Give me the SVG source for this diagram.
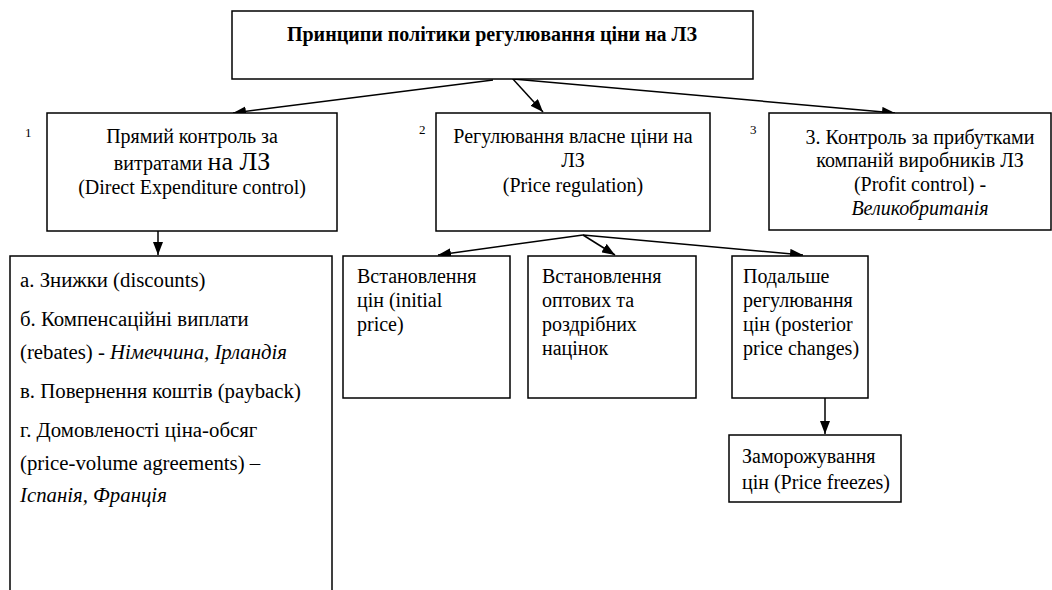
<svg xmlns="http://www.w3.org/2000/svg" width="1052" height="590" viewBox="0 0 1052 590">
<style>
.box{fill:#fff;stroke:#000;stroke-width:1.5}
.t{font-family:"Liberation Serif","Times New Roman",serif;font-size:20px;fill:#000}
.ta{font-size:20.8px}
.c{text-anchor:middle}
.b{font-weight:bold}
.i{font-style:italic}
.n{font-family:"Liberation Serif","Times New Roman",serif;font-size:13px;fill:#000}
.edge{stroke:#000;stroke-width:1.5;fill:none;marker-end:url(#ah)}
</style>
<defs>
<marker id="ah" markerUnits="userSpaceOnUse" markerWidth="13" markerHeight="10" viewBox="0 0 13 10" refX="13" refY="5" orient="auto">
<path d="M0,0 L13,5 L0,10 Z" fill="#000"/>
</marker>
</defs>
<rect width="1052" height="590" fill="#fff"/>
<g id="connectors">
<line class="edge" x1="493" y1="80" x2="233" y2="113"/>
<line class="edge" x1="512" y1="78" x2="543" y2="112"/>
<line class="edge" x1="513" y1="79" x2="895" y2="113"/>
<line class="edge" x1="158" y1="231" x2="158" y2="255"/>
<line class="edge" x1="583" y1="235" x2="438" y2="255"/>
<line class="edge" x1="583" y1="235" x2="615" y2="255"/>
<line class="edge" x1="583" y1="235" x2="803" y2="255"/>
<line class="edge" x1="825" y1="398" x2="825" y2="434"/>
</g>
<g id="root">
<rect class="box" x="232" y="11" width="521" height="68"/>
<text class="t c b" x="492" y="41">Принципи політики регулювання ціни на ЛЗ</text>
</g>
<g id="n1">
<text class="n" x="25" y="137">1</text>
<rect class="box" x="47" y="113" width="290" height="118"/>
<text class="t c" x="192" y="143">Прямий контроль за</text>
<text class="t c" x="192" y="170">витратами <tspan style="font-size:26px">на ЛЗ</tspan></text>
<text class="t c" x="192" y="194">(Direct Expenditure control)</text>
</g>
<g id="n2">
<text class="n" x="419" y="134">2</text>
<rect class="box" x="436" y="113" width="274" height="118"/>
<text class="t c" x="573" y="143">Регулювання власне ціни на</text>
<text class="t c" x="573" y="167">ЛЗ</text>
<text class="t c" x="573" y="192">(Price regulation)</text>
</g>
<g id="n3">
<text class="n" x="750" y="134">3</text>
<rect class="box" x="769" y="113" width="282" height="117"/>
<text class="t c" x="920" y="144">3. Контроль за прибутками</text>
<text class="t c" x="920" y="167">компаній виробників ЛЗ</text>
<text class="t c" x="920" y="191">(Profit control) -</text>
<text class="t c i" x="920" y="215">Великобританія</text>
</g>
<g id="n1a">
<rect class="box" x="10" y="256" width="322" height="345"/>
<text class="t ta" x="20" y="287">а. Знижки (discounts)</text>
<text class="t ta" x="20" y="326">б. Компенсаційні виплати</text>
<text class="t ta" x="20" y="359">(rebates) - <tspan class="i">Німеччина, Ірландія</tspan></text>
<text class="t ta" x="20" y="398">в. Повернення коштів (payback)</text>
<text class="t ta" x="20" y="437">г. Домовленості ціна-обсяг</text>
<text class="t ta" x="20" y="470">(price-volume agreements) –</text>
<text class="t ta i" x="20" y="502">Іспанія, Франція</text>
</g>
<g id="n2a">
<rect class="box" x="343" y="256" width="167" height="142"/>
<text class="t" x="357" y="283">Встановлення</text>
<text class="t" x="357" y="307">цін (initial</text>
<text class="t" x="357" y="331">price)</text>
</g>
<g id="n2b">
<rect class="box" x="528" y="256" width="168" height="142"/>
<text class="t" x="542" y="283">Встановлення</text>
<text class="t" x="542" y="307">оптових та</text>
<text class="t" x="542" y="331">роздрібних</text>
<text class="t" x="542" y="355">націнок</text>
</g>
<g id="n2c">
<rect class="box" x="732" y="256" width="136" height="142"/>
<text class="t" x="743" y="283">Подальше</text>
<text class="t" x="743" y="307">регулювання</text>
<text class="t" x="743" y="331">цін (posterior</text>
<text class="t" x="743" y="355">price changes)</text>
</g>
<g id="n2c1">
<rect class="box" x="729" y="435" width="172" height="67"/>
<text class="t" x="742" y="463">Заморожування</text>
<text class="t" x="742" y="489">цін (Price freezes)</text>
</g>
</svg>
